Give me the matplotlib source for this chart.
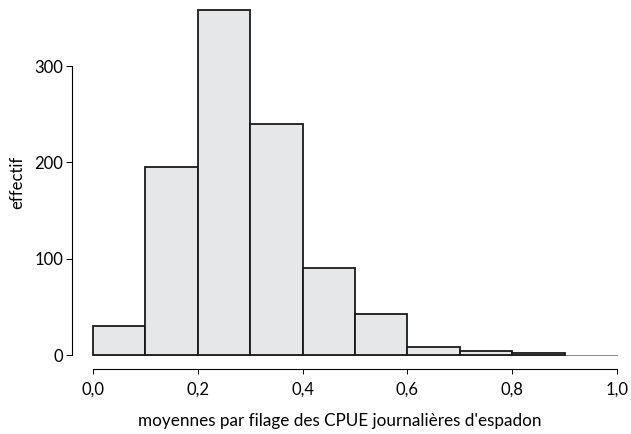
import matplotlib
matplotlib.use("Agg")
import matplotlib.pyplot as plt
import numpy as np

plt.rcParams['font.family'] = ['Lato', 'DejaVu Sans']

bin_starts = [0.0, 0.1, 0.2, 0.3, 0.4, 0.5, 0.6, 0.7, 0.8]
bin_width = 0.1
counts = [30, 195, 358, 240, 90, 43, 8, 4, 2]
x_ticks = [0.0, 0.2, 0.4, 0.6, 0.8, 1.0]
x_tick_labels = ["0,0", "0,2", "0,4", "0,6", "0,8", "1,0"]
y_ticks = [0, 100, 200, 300]
y_tick_labels = ["0", "100", "200", "300"]

W, H = 631, 434
fig = plt.figure(figsize=(W/100, H/100), dpi=100)
left_px, right_px = 93, 617
y0_px, ytop_px = 355, 8.3
ax = fig.add_axes([left_px/W, (H - y0_px)/H, (right_px-left_px)/W, (y0_px-ytop_px)/H])
ax.set_xlim(0, 1.0)
ax.set_ylim(0, 360)

ax.plot([0, 1.0], [0, 0], color='#888888', lw=0.7, clip_on=False, zorder=1)
ax.bar(bin_starts, counts, width=bin_width, align='edge', color='#e6e7e8',
       edgecolor='#1a1a1a', linewidth=1.3, clip_on=False, zorder=2)

for s in ['top', 'right']:
    ax.spines[s].set_visible(False)
ax.spines['left'].set_position(('outward', 15))
ax.spines['bottom'].set_position(('outward', 10))
ax.spines['left'].set_bounds(0, 300)
ax.spines['bottom'].set_bounds(0, 1.0)
for s in ['left', 'bottom']:
    ax.spines[s].set_linewidth(0.8)

ax.set_xticks(x_ticks)
ax.set_xticklabels(x_tick_labels)
ax.set_yticks(y_ticks)
ax.set_yticklabels(y_tick_labels)
ax.tick_params(axis='y', direction='out', length=4.3, width=0.7, pad=2, labelsize=12)
ax.tick_params(axis='x', direction='out', length=3.5, width=0.7, pad=6, labelsize=12)

fig.text(340/W, 1 - 421/H, "moyennes par filage des CPUE journalières d'espadon",
         ha='center', va='center', fontsize=12.3)
fig.text(17/W, 1 - 182/H, "effectif", rotation=90, ha='center', va='center', fontsize=12)

fig.savefig("out.png", dpi=100)
